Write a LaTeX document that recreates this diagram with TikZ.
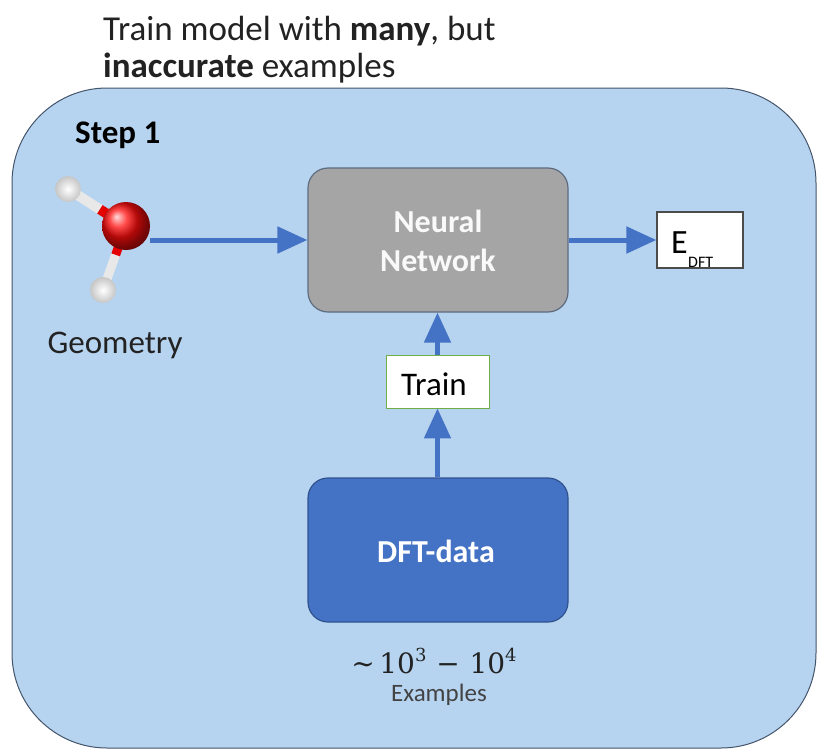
\documentclass[tikz,border=0pt]{standalone}
\usepackage{fontspec}
\setmainfont{Carlito}
\newfontfamily\countfont{DejaVu Serif}
\usetikzlibrary{arrows.meta,calc}
\definecolor{panelfill}{HTML}{B6D4F0}
\definecolor{panelline}{HTML}{44546A}
\definecolor{nngray}{HTML}{A5A5A5}
\definecolor{nnline}{HTML}{5E6B7E}
\definecolor{dftblue}{HTML}{4472C4}
\definecolor{dftline}{HTML}{2F528F}
\definecolor{flowblue}{HTML}{4472C4}
\definecolor{trainline}{HTML}{70AD47}
\definecolor{textdark}{HTML}{222222}
\newcommand{\upnum}[1]{\raisebox{0.42em}{\fontsize{18}{19}\selectfont #1}}
\tikzset{
  px/.style={x=1pt,y=-1pt},
  blockbox/.style={rounded corners=20pt, minimum width=260pt, minimum height=144pt,
    line width=1.2pt},
  blocktext/.style={anchor=base, text=white, inner sep=0pt,
    font=\fontsize{32}{36}\selectfont\bfseries},
  labelbox/.style={fill=white, draw, inner sep=0pt},
  plaintext/.style={inner sep=0pt, text=textdark},
  hatom/.style={inner color=white, outer color=gray!45},
  flow/.style={draw=flowblue, line width=5pt,
    -{Triangle[length=30pt,width=26pt]}},
}
\begin{document}
\begin{tikzpicture}[px]
\useasboundingbox (0,0) rectangle (817,750);
% panel
\draw[panelline, fill=panelfill, line width=1pt, rounded corners=95pt]
  (12,88) rectangle (816,748);
% heading
\node[plaintext, anchor=base west, font=\fontsize{35}{37}\selectfont] (title1) at (103,40)
  {Train model with \textbf{many}, but};
\node[plaintext, anchor=base west, font=\fontsize{35}{37}\selectfont] (title2) at (103,77)
  {\textbf{inaccurate} examples};
\node[plaintext, anchor=base west, text=black, font=\fontsize{33}{36}\selectfont\bfseries]
  (step) at (75,143) {Step 1};
% water molecule
\coordinate (O) at (126,226);
\coordinate (H1) at (68,189);
\coordinate (H2) at (103,290);
\draw[line width=10pt, white!82!gray] (H1) -- ($(H1)!0.55!(O)$);
\draw[line width=10pt, red!90!black] ($(H1)!0.55!(O)$) -- (O);
\draw[line width=9pt, white!82!gray] (H2) -- ($(H2)!0.55!(O)$);
\draw[line width=9pt, red!90!black] ($(H2)!0.55!(O)$) -- (O);
\shade[hatom] (H1) circle (13pt);
\shade[hatom] (H2) circle (13pt);
\shade[ball color=red!95!white] (O) circle (24pt);
\coordinate (mstart) at (150,240);
\node[plaintext, anchor=base, font=\fontsize{33}{36}\selectfont] (geo) at (115,353) {Geometry};
% blocks
\node[blockbox, fill=nngray, draw=nnline] (nn) at (438,240) {};
\node[blocktext, text=white!95!gray] (nn1) at (438,232) {Neural};
\node[blocktext, text=white!95!gray] (nn2) at (438,271) {Network};
\node[blockbox, fill=dftblue, draw=dftline] (dft) at (438,550) {};
\node[blocktext] (dftlabel) at (436,562) {DFT-data};
\node[labelbox, draw=trainline, line width=0.8pt, minimum width=103pt, minimum height=53pt]
  (train) at (437.5,381.5) {};
\node[plaintext, anchor=base, text=black, font=\fontsize{33}{36}\selectfont] (trainlabel)
  at (434,395) {Train};
\node[labelbox, draw=gray!60!black, line width=1.2pt, minimum width=86pt, minimum height=56pt]
  (edft) at (700,240) {};
\begin{scope}
  \clip (edft.south west) rectangle (edft.north east);
  \node[plaintext, anchor=base west, text=black, font=\fontsize{34}{36}\selectfont]
    (elabel) at (671,253) {E};
  \node[plaintext, anchor=base west, text=black, font=\fontsize{16}{18}\selectfont]
    (esub) at (688,267) {DFT};
\end{scope}
% connectors
\draw[flow] (mstart) -- (nn.west);
\draw[flow] (nn.east) -- (edft.west);
\draw[flow] (train.north) -- (nn.south -| train.north);
\draw[flow] (dft.north -| train.south) -- (train.south);
% sample count
\node[plaintext, anchor=base, font=\fontsize{28}{30}\countfont] (count) at (434,673)
  {∼\,10\upnum{3}\hspace{0.35em}−\hspace{0.35em}10\upnum{4}};
\node[plaintext, anchor=base, text=textdark!85, font=\fontsize{25}{28}\selectfont]
  (ex) at (439,701) {Examples};
\end{tikzpicture}
\end{document}
